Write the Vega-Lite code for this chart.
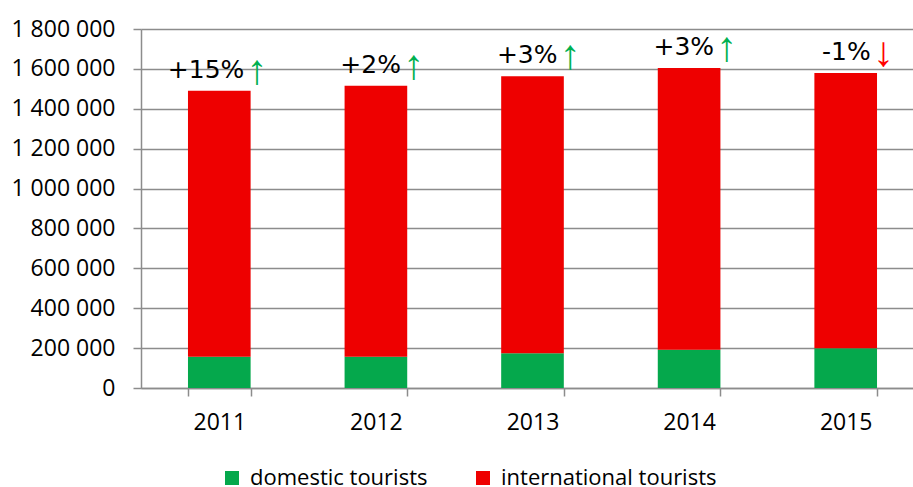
{
  "$schema": "https://vega.github.io/schema/vega-lite/v6.json",
  "width": 772,
  "height": 359,
  "autosize": {"type": "none"},
  "padding": {"left": 141, "top": 29, "right": 0, "bottom": 99},
  "config": {
    "view": {"stroke": null},
    "font": "Open Sans",
    "axis": {"labelColor": "#000000", "labelFont": "Open Sans", "labelFontSize": 23, "domainColor": "#8c8c8c", "tickColor": "#8c8c8c", "gridColor": "#8c8c8c", "domainWidth": 1.5, "tickWidth": 1.5, "gridWidth": 1.3, "labelOverlap": false},
    "axisY": {"labelOverlap": false}
  },
  "datasets": {
    "tourists": [
      {"year": "2011", "type": "domestic tourists", "value": 157000},
      {"year": "2011", "type": "international tourists", "value": 1334000},
      {"year": "2012", "type": "domestic tourists", "value": 157000},
      {"year": "2012", "type": "international tourists", "value": 1359000},
      {"year": "2013", "type": "domestic tourists", "value": 174000},
      {"year": "2013", "type": "international tourists", "value": 1389000},
      {"year": "2014", "type": "domestic tourists", "value": 192000},
      {"year": "2014", "type": "international tourists", "value": 1413000},
      {"year": "2015", "type": "domestic tourists", "value": 199000},
      {"year": "2015", "type": "international tourists", "value": 1380000}
    ],
    "changes": [
      {"year": "2011", "total": 1491000, "change": "+15%", "arrow": "↑", "direction": "up"},
      {"year": "2012", "total": 1516000, "change": "+2%", "arrow": "↑", "direction": "up"},
      {"year": "2013", "total": 1563000, "change": "+3%", "arrow": "↑", "direction": "up"},
      {"year": "2014", "total": 1605000, "change": "+3%", "arrow": "↑", "direction": "up"},
      {"year": "2015", "total": 1579000, "change": "-1%", "arrow": "↓", "direction": "down"}
    ]
  },
  "encoding": {
    "x": {"field": "year", "type": "ordinal",
      "scale": {"range": [0, 783], "paddingInner": 0.6, "paddingOuter": 0.3},
      "axis": {"title": null, "labelAngle": 0, "tickBand": "extent", "tickSize": 8, "labelPadding": 15, "grid": false}}
  },
  "layer": [
    {
      "data": {"name": "tourists"},
      "mark": {"type": "bar"},
      "encoding": {
        "y": {"field": "value", "type": "quantitative", "stack": "zero",
          "scale": {"domain": [0, 1800000], "nice": false},
          "axis": {"title": null, "values": [0, 200000, 400000, 600000, 800000, 1000000, 1200000, 1400000, 1600000, 1800000],
            "labelExpr": "replace(format(datum.value, ','), regexp(',', 'g'), ' ')",
            "labelOverlap": false, "labelBound": false, "labelFlush": false,
            "tickSize": 8, "labelPadding": 18, "grid": true, "domain": true}},
        "color": {"field": "type", "type": "nominal",
          "scale": {"domain": ["domestic tourists", "international tourists"], "range": ["#05a84c", "#ee0000"]},
          "legend": {"title": null, "orient": "none", "direction": "horizontal", "legendX": 80, "legendY": 438,
            "symbolType": "square", "symbolSize": 196, "symbolStrokeWidth": 0, "labelFont": "Open Sans", "labelFontSize": 22, "labelColor": "#000000", "labelOffset": 7, "columnPadding": 44, "labelLimit": 400}},
        "order": {"field": "type", "sort": "ascending"}
      }
    },
    {
      "data": {"name": "changes"},
      "mark": {"type": "text", "align": "right", "baseline": "alphabetic", "dx": 25, "dy": -13, "font": "DejaVu Sans", "fontSize": 25, "color": "#000000"},
      "encoding": {
        "y": {"field": "total", "type": "quantitative",
          "scale": {"domain": [0, 1800000], "nice": false},
          "axis": {"title": null, "values": [0, 200000, 400000, 600000, 800000, 1000000, 1200000, 1400000, 1600000, 1800000],
            "labelExpr": "replace(format(datum.value, ','), regexp(',', 'g'), ' ')",
            "labelOverlap": false, "labelBound": false, "labelFlush": false,
            "tickSize": 8, "labelPadding": 18, "grid": true, "domain": true}},
        "text": {"field": "change"}
      }
    },
    {
      "data": {"name": "changes"},
      "mark": {"type": "text", "align": "left", "baseline": "alphabetic", "dx": 27, "dy": -7, "font": "Liberation Sans", "fontSize": 42},
      "encoding": {
        "y": {"field": "total", "type": "quantitative",
          "scale": {"domain": [0, 1800000], "nice": false},
          "axis": {"title": null, "values": [0, 200000, 400000, 600000, 800000, 1000000, 1200000, 1400000, 1600000, 1800000],
            "labelExpr": "replace(format(datum.value, ','), regexp(',', 'g'), ' ')",
            "labelOverlap": false, "labelBound": false, "labelFlush": false,
            "tickSize": 8, "labelPadding": 18, "grid": true, "domain": true}},
        "text": {"field": "arrow"},
        "color": {"field": "direction", "type": "nominal", "scale": {"domain": ["up", "down"], "range": ["#00b050", "#ff0000"]}, "legend": null}
      }
    }
  ],
  "resolve": {"scale": {"color": "independent"}}
}
